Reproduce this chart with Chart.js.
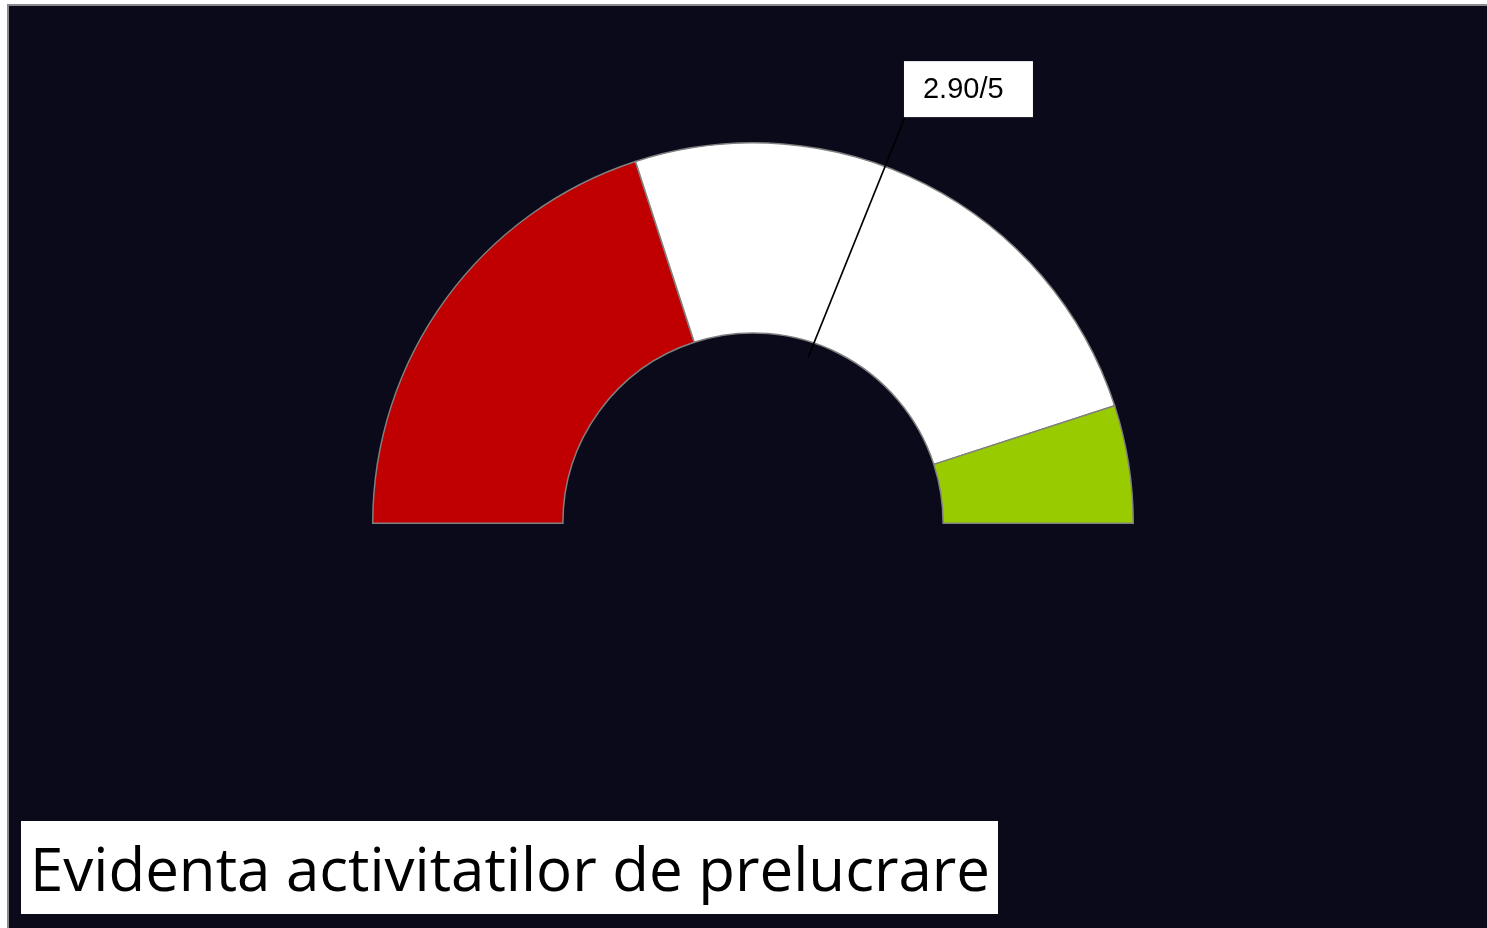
<!DOCTYPE html>
<html lang="ro">
<head>
  <meta charset="UTF-8">
  <title>Evidenta activitatilor de prelucrare</title>
  <script src="https://cdn.jsdelivr.net/npm/chart.js"></script>
  <style>
    html, body { margin: 0; padding: 0; background: #fff; overflow: hidden; }
    .panel {
      position: absolute;
      left: 7px; top: 4px;
      width: 1490px; height: 930px;
      background: #0a0a1b;
      border: 2px solid #8a8a8a;
    }
    .panel canvas { position: absolute; left: 0; top: 0; }
    .titlu {
      position: absolute;
      left: 12px; top: 815px;
      height: 93px;
      padding: 0 8px 0 9px;
      background: #fff;
      color: #000;
      font-family: "Open Sans", sans-serif;
      font-size: 60px;
      line-height: 95px;
      white-space: nowrap;
    }
  </style>
</head>
<body>

<div class="panel">
  <canvas id="gauge" width="1478" height="922"></canvas>
  <div class="titlu">Evidenta activitatilor de prelucrare</div>
</div>

<script>
  // benzile indicatorului (scala 0 - 5)
  const benzi = ['Slab', 'Mediu', 'Bun'];
  const latimeBenzi = [2, 2.5, 0.5];
  const culoriBenzi = ['#c00000', '#ffffff', '#99cc00'];
  const scorMaxim = 5;
  const scor = 2.90;

  // eticheta cu valoarea + linia de legatura
  const etichetaScor = {
    id: 'etichetaScor',
    afterDraw(chart) {
      const arc = chart.getDatasetMeta(0).data[0];
      if (!arc) return;
      const ctx = chart.ctx;
      const cx = arc.x, cy = arc.y;
      const rInt = arc.innerRadius, rExt = arc.outerRadius;

      // unghiul valorii pe semicerc (stanga = 0, dreapta = maxim)
      const unghi = Math.PI + (scor / scorMaxim) * Math.PI;
      const r = rInt * 0.92;
      const px = cx + Math.cos(unghi + 0.07) * r;
      const py = cy + Math.sin(unghi + 0.07) * r;

      const bx = cx + rExt * 0.397, by = cy - rExt * 1.215;
      const bw = 129, bh = 56;

      ctx.save();
      ctx.strokeStyle = '#000';
      ctx.lineWidth = 1.6;
      ctx.beginPath();
      ctx.moveTo(bx + 1, by + bh);
      ctx.lineTo(px, py);
      ctx.stroke();

      ctx.fillStyle = '#fff';
      ctx.fillRect(bx, by, bw, bh);
      ctx.fillStyle = '#000';
      ctx.font = '29px "Liberation Sans", Arial, sans-serif';
      ctx.textAlign = 'left';
      ctx.textBaseline = 'middle';
      ctx.fillText(scor.toFixed(2) + '/' + scorMaxim, bx + 19, by + bh / 2 + 1);
      ctx.restore();
    }
  };

  new Chart(document.getElementById('gauge'), {
    type: 'doughnut',
    data: {
      labels: benzi,
      datasets: [{
        data: latimeBenzi,
        backgroundColor: culoriBenzi,
        borderColor: '#808080',
        borderWidth: 1.5,
        borderJoinStyle: 'miter'
      }]
    },
    options: {
      responsive: false,
      animation: false,
      rotation: -90,
      circumference: 180,
      cutout: '50%',
      layout: { padding: { left: 363, top: 136, right: 353, bottom: 404 } },
      plugins: {
        legend: { display: false },
        tooltip: { enabled: false },
        title: { display: false }
      }
    },
    plugins: [etichetaScor]
  });
</script>

</body>
</html>
